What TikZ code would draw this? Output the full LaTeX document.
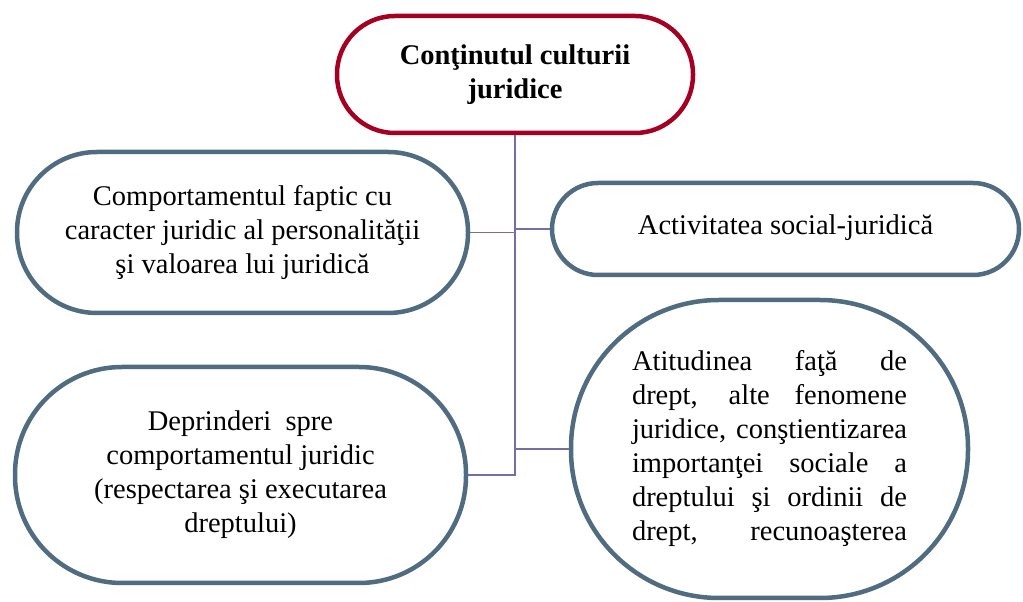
\documentclass[tikz,border=0pt]{standalone}
\usepackage{fontspec}
\setmainfont{Liberation Serif}
\usepackage{tikz}
\usetikzlibrary{calc,positioning}

\definecolor{rootred}{RGB}{165,0,33}
\definecolor{boxblue}{RGB}{79,108,128}
\definecolor{linkviolet}{RGB}{118,108,168}

% one justified line of the round box
\newcommand{\jline}[1]{\hbox to 275bp{\spaceskip=0pt plus 1fil #1}}

\begin{document}
\begin{tikzpicture}[font=\fontsize{28.5bp}{34bp}\selectfont,
	box/.style={draw=boxblue, line width=4.5bp, fill=white, align=center, inner sep=0pt},
	root/.style={box, draw=rootred},
	link/.style={draw=linkviolet, line width=1.5bp}]
	\useasboundingbox (0bp,0bp) rectangle (1023bp,602bp);

	\node ({top}) at (515bp, 527.5bp) [root, minimum width=356bp, minimum height=117bp, rounded corners=58bp] {\bfseries Conţinutul culturii\\\bfseries juridice};
	\node ({comp}) at (242.5bp, 369.5bp) [box, minimum width=451bp, minimum height=161bp, rounded corners=80bp] {Comportamentul faptic cu\\caracter juridic al personalităţii\\şi valoarea lui juridică};
	\node ({activ}) at (785.5bp, 373bp) [box, minimum width=467bp, minimum height=92bp, rounded corners=46bp] {\raisebox{9bp}{Activitatea social-juridică}};
	\node ({depr}) at (240.5bp, 127bp) [box, minimum width=451bp, minimum height=216bp, rounded corners=107bp] {Deprinderi\ \ spre\\comportamentul juridic\\(respectarea şi executarea\\dreptului)};
	\node ({atit}) at (769.5bp, 153bp) [box, minimum width=397bp, minimum height=298bp, rounded corners=148bp] {\jline{Atitudinea faţă de}\\\jline{drept, alte fenomene}\\\jline{juridice, conştientizarea}\\\jline{importanţei sociale a}\\\jline{dreptului şi ordinii de}\\\jline{drept, recunoaşterea}};

	%trunk and branches
	\draw [link] (top.south) -- (top.south |- depr.east) -- (depr.east);
	\draw [link] (comp.east) -- (comp.east -| top.south);
	\draw [link] (activ.west) -- (activ.west -| top.south);
	\draw [link] (atit.west) -- (atit.west -| top.south);
\end{tikzpicture}
\end{document}
